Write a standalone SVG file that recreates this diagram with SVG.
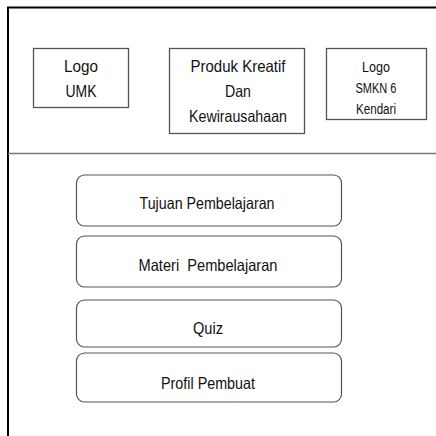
<svg xmlns="http://www.w3.org/2000/svg" width="436" height="436" viewBox="0 0 436 436">
<style>
.box{fill:#fff;stroke:#555;stroke-width:1.3}
.rbox{fill:#fff;stroke:#555;stroke-width:1.2}
text{font-family:"Liberation Sans","Open Sans",sans-serif;fill:#111;text-anchor:middle}
.t{font-size:16.5px}
.s{font-size:14px}
</style>
<rect width="436" height="436" fill="#fff"/>
<g id="frame">
<path d="M8 436 V7.5 H436" fill="none" stroke="#000" stroke-width="2"/>
<line x1="8" y1="153.5" x2="436" y2="153.5" stroke="#777" stroke-width="1.5"/>
</g>
<g id="logo-umk">
<rect class="box" x="33.5" y="48.5" width="95" height="59"/>
<text class="t" x="81" y="72" textLength="34" lengthAdjust="spacingAndGlyphs">Logo</text>
<text class="t" x="81" y="97" textLength="31" lengthAdjust="spacingAndGlyphs">UMK</text>
</g>
<g id="produk">
<rect class="box" x="169.5" y="48.5" width="135" height="85"/>
<text class="t" x="238" y="72" textLength="95" lengthAdjust="spacingAndGlyphs">Produk Kreatif</text>
<text class="t" x="238" y="97" textLength="26" lengthAdjust="spacingAndGlyphs">Dan</text>
<text class="t" x="238" y="122" textLength="98" lengthAdjust="spacingAndGlyphs">Kewirausahaan</text>
</g>
<g id="logo-smkn">
<rect class="box" x="326.5" y="48.5" width="100" height="71"/>
<text class="s" x="376" y="72" textLength="28" lengthAdjust="spacingAndGlyphs">Logo</text>
<text class="s" x="376" y="93" textLength="41" lengthAdjust="spacingAndGlyphs">SMKN 6</text>
<text class="s" x="376" y="114" textLength="40" lengthAdjust="spacingAndGlyphs">Kendari</text>
</g>
<g id="connectors"></g>
<g id="tujuan">
<rect class="rbox" x="76.5" y="175" width="265" height="51" rx="8"/>
<text class="t" x="207" y="209" textLength="135" lengthAdjust="spacingAndGlyphs">Tujuan Pembelajaran</text>
</g>
<g id="materi">
<rect class="rbox" x="76.5" y="236" width="265" height="51" rx="8"/>
<text class="t" x="208" y="271" textLength="139" lengthAdjust="spacingAndGlyphs" xml:space="preserve">Materi  Pembelajaran</text>
</g>
<g id="quiz">
<rect class="rbox" x="76.5" y="300" width="265" height="47" rx="8"/>
<text class="t" x="208" y="334" textLength="30" lengthAdjust="spacingAndGlyphs">Quiz</text>
</g>
<g id="profil">
<rect class="rbox" x="76.5" y="353" width="265" height="49" rx="8"/>
<text class="t" x="208" y="389" textLength="94" lengthAdjust="spacingAndGlyphs">Profil Pembuat</text>
</g>
</svg>
